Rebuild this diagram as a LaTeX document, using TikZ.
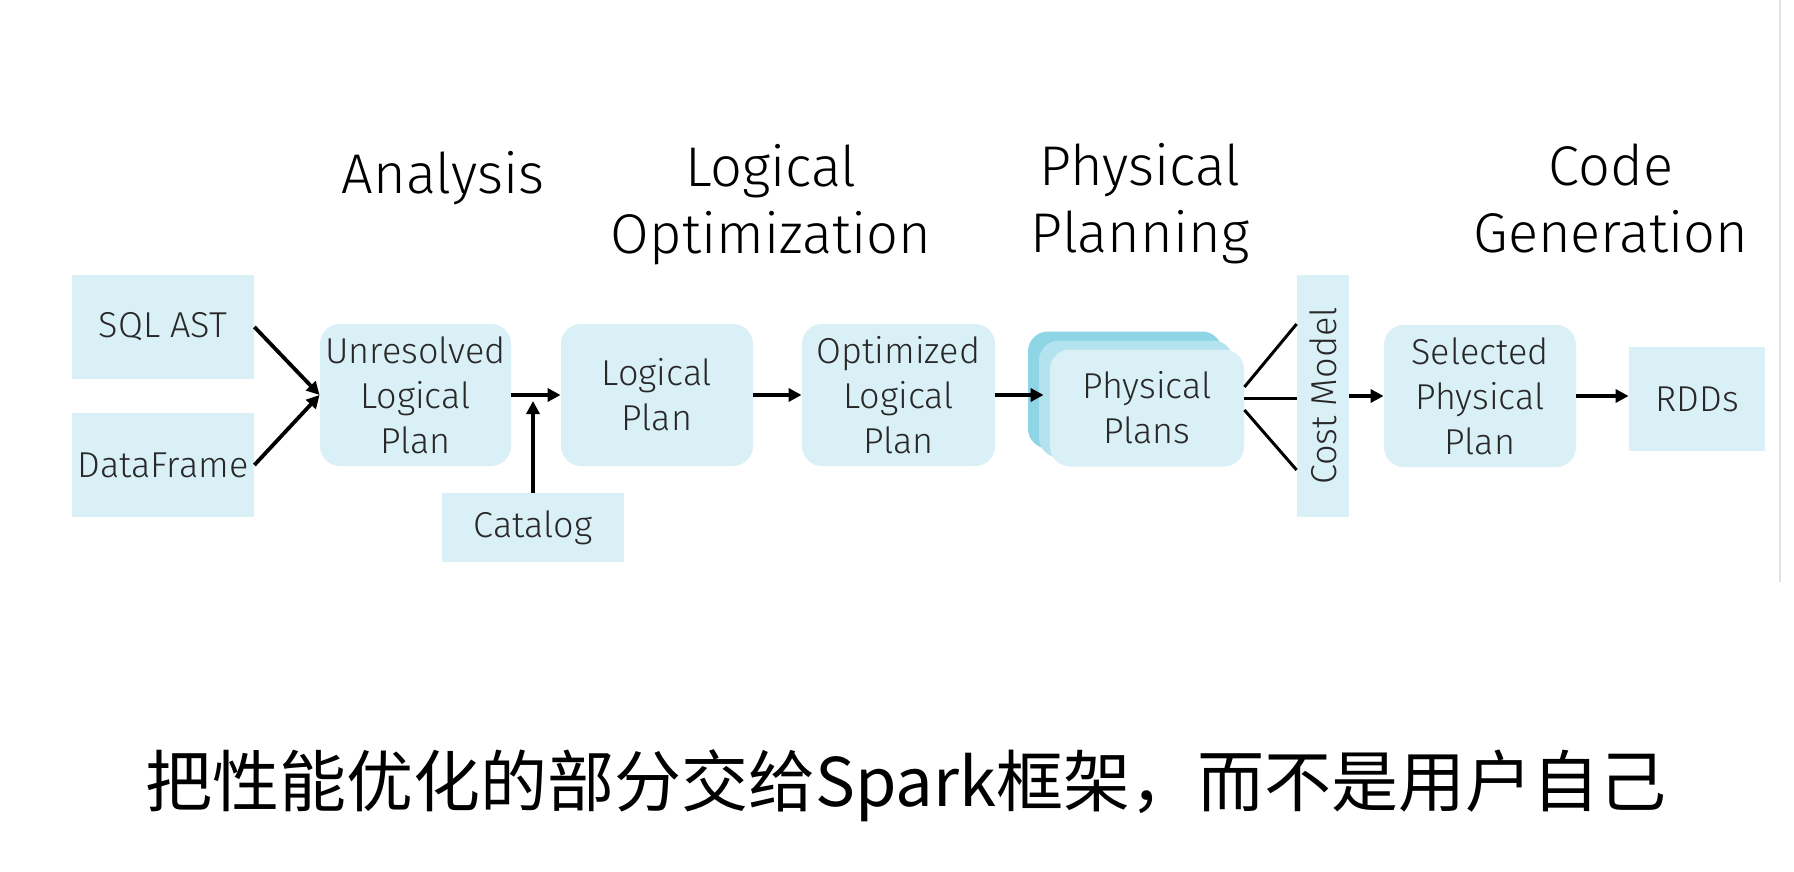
\documentclass[tikz,border=0pt]{standalone}
\usepackage{fontspec}
\setmainfont{Fira Sans Light}
\newfontfamily\cjkfont{Noto Sans CJK SC}
\usetikzlibrary{arrows.meta}

\definecolor{planblue}{RGB}{218,240,247}
\definecolor{stackmid}{RGB}{178,227,238}
\definecolor{stackback}{RGB}{142,213,229}
\definecolor{inkgray}{RGB}{40,40,40}
\definecolor{edgegray}{RGB}{225,225,225}

\tikzset{
    plan/.style={fill=planblue, rounded corners=10pt, align=center, text=inkgray,
        inner sep=0pt, font=\fontsize{18pt}{22.5pt}\selectfont},
    source/.style={fill=planblue, align=center, text=inkgray, inner sep=0pt,
        font=\fontsize{18pt}{22.5pt}\selectfont},
    phase/.style={align=center, anchor=base, text=black,
        font=\fontsize{28pt}{33.5pt}\selectfont},
    flow/.style={line width=1.9pt, -{Triangle[length=6.5pt,width=6.5pt]}},
    fork/.style={line width=1.5pt}
}

\begin{document}
\begin{tikzpicture}[x=0.5pt,y=-0.5pt]
        \useasboundingbox[fill=white] (0,0) rectangle (1794,872);
        \draw[edgegray, line width=1pt] (1780,0) -- (1780,582);

        %% Phase titles (base = last line)
        \node[phase] (analysis) at (443,193) {Analysis};
        \node[phase] (logopt) at (771,253) {Logical\\Optimization};
        \node[phase] (physplan) at (1140,252) {Physical\\Planning};
        \node[phase] (codegen) at (1611,252) {Code\\Generation};

        %% Inputs
        \node[source, minimum width=91pt, minimum height=52pt] (sql) at (163,327) {SQL AST};
        \node[source, minimum width=91pt, minimum height=52pt] (frame) at (163,465) {DataFrame};
        \node[source, minimum width=91pt, minimum height=34.5pt] (catalog) at (533,527.5) {Catalog};

        %% Plans
        \node[plan, minimum width=95.5pt, minimum height=71pt] (unres) at (415.5,395) {Unresolved\\Logical\\Plan};
        \node[plan, minimum width=96pt, minimum height=71pt] (logical) at (657,395) {Logical\\Plan};
        \node[plan, minimum width=96.5pt, minimum height=71pt] (optimized) at (898.5,395) {Optimized\\Logical\\Plan};

        %% Stack of physical plans
        \node[plan, fill=stackback, minimum width=97pt, minimum height=58.5pt] (physback) at (1125,390) {};
        \node[plan, fill=stackmid, minimum width=97pt, minimum height=58.5pt] (physmid) at (1136,399) {};
        \node[plan, minimum width=97pt, minimum height=58.5pt] (physical) at (1147,408) {Physical\\Plans};

        \node[source, rotate=90, minimum width=121pt, minimum height=26pt] (cost) at (1323,396) {Cost Model};
        \node[plan, minimum width=96pt, minimum height=71pt] (selected) at (1480,396) {Selected\\Physical\\Plan};
        \node[source, minimum width=68pt, minimum height=52pt] (rdds) at (1697,399) {RDDs};

        %% Connectors
        \draw[flow] (sql.east) -- (unres.west);
        \draw[flow] (frame.east) -- (unres.west);
        \draw[flow] (unres.east) -- (logical.west);
        \draw[flow, shorten >=3pt] (catalog.north) -- (catalog.north |- unres.east);
        \draw[flow] (logical.east) -- (optimized.west);
        \draw[flow, shorten >=3pt] (optimized.east) -- (optimized.east -| physical.west);
        \foreach \a/\b in {10.5/36, 5/-1, -1/-37}
            \draw[fork] ([yshift=\a pt]physical.east) -- ([yshift=\b pt]cost.north);
        \draw[flow] (cost.south) -- (cost.south -| selected.west);
        \draw[flow] (selected.east) -- (selected.east -| rdds.west);

        %% Caption
        \node[font=\cjkfont\fontsize{33.5pt}{40pt}\selectfont, text=black] (motto) at (906,786)
            {把性能优化的部分交给Spark框架，而不是用户自己};
    \end{tikzpicture}
\end{document}
